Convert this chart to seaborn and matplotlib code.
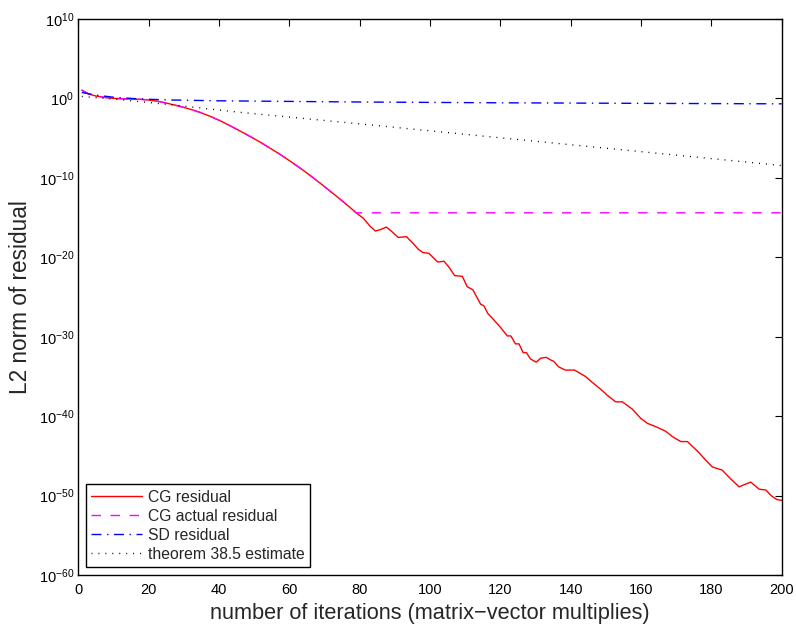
import numpy as np
import pandas as pd
import seaborn as sns
import matplotlib
matplotlib.use("Agg")
import matplotlib.pyplot as plt

##############################################
# values (exponents of 10)
cg_iter = [1, 3, 5, 8, 10.5, 14, 18, 20, 22.8, 25, 27.5, 30, 32.5, 34.6, 37.5,
           40.3, 43, 46, 49, 51.7, 54.5, 57.4, 60, 63.1, 66, 68.8, 71.5, 74.5,
           77, 79.2, 81.1, 83, 84.5, 86, 87.6, 89, 91, 93.3, 95.3, 96.7, 98,
           99.7, 102.2, 104, 105.5, 107, 109.2, 110.6, 112.2, 114.4, 115.3,
           116.5, 118, 120, 122, 123, 124.3, 125.3, 126.5, 127.4, 128.6, 130.2,
           131.5, 133.1, 134.2, 135.2, 136.6, 138.5, 141.1, 144.2, 146, 148.5,
           150.5, 152.8, 154.7, 157.5, 160, 161.8, 164.6, 167, 169, 171.3, 173.2,
           176.5, 178.5, 180.3, 183.1, 185.5, 187.9, 189.5, 191.2, 193.6, 195.5,
           197, 198.6, 200]
cg_exp = [1.05, 0.55, 0.3, 0.1, 0.0, -0.07, -0.12, -0.2, -0.38, -0.58, -0.84,
          -1.13, -1.45, -1.75, -2.25, -2.8, -3.4, -4.1, -4.82, -5.5, -6.25,
          -7.05, -7.82, -8.77, -9.72, -10.68, -11.63, -12.7, -13.62, -14.47,
          -15.1, -16.1, -16.7, -16.5, -16.2, -16.7, -17.5, -17.4, -18.3, -19.0,
          -19.4, -19.5, -20.6, -20.5, -21.3, -22.3, -22.4, -23.7, -24.1, -25.9,
          -26.1, -27.1, -27.8, -28.8, -29.9, -29.9, -30.9, -30.9, -32.0, -32.0,
          -32.8, -33.2, -32.7, -32.6, -32.9, -33.1, -33.8, -34.2, -34.2, -35.0,
          -35.7, -36.6, -37.4, -38.2, -38.2, -39.1, -40.3, -40.9, -41.4, -41.9,
          -42.6, -43.2, -43.2, -44.6, -45.6, -46.4, -46.8, -47.9, -48.9, -48.6,
          -48.3, -49.2, -49.3, -50.0, -50.5, -50.6]

actual_iter = [1, 3, 5, 8, 10.5, 14, 18, 20, 22.8, 25, 27.5, 30, 32.5, 34.6,
               37.5, 40.3, 43, 46, 49, 51.7, 54.5, 57.4, 60, 63.1, 66, 68.8,
               71.5, 74.5, 77, 79, 200]
actual_exp = [1.05, 0.55, 0.3, 0.1, 0.0, -0.07, -0.12, -0.2, -0.38, -0.58,
              -0.84, -1.13, -1.45, -1.75, -2.25, -2.8, -3.4, -4.1, -4.82, -5.5,
              -6.25, -7.05, -7.82, -8.77, -9.72, -10.68, -11.63, -12.7, -13.62,
              -14.4, -14.4]

sd_iter = [1, 5, 10, 18, 27, 40, 56, 80, 120, 160, 200]
sd_exp = [0.75, 0.42, 0.15, -0.08, -0.2, -0.3, -0.36, -0.45, -0.55, -0.62, -0.68]

est_iter = [1, 13, 27.5, 46, 80, 121, 160, 200]
est_exp = [0.25, -0.2, -0.85, -1.75, -3.2, -5.0, -6.7, -8.45]

labels = ["CG residual", "CG actual residual", "SD residual",
          "theorem 38.5 estimate"]


def to_frame(iters, exps):
    return pd.DataFrame({"it": iters, "res": [10.0 ** e for e in exps]})


sns.set_theme(style="white")
plt.rcParams["font.family"] = ["Liberation Sans", "DejaVu Sans"]
plt.rcParams["mathtext.fontset"] = "custom"
plt.rcParams["mathtext.rm"] = "Liberation Sans"
plt.rcParams["mathtext.it"] = "Liberation Sans:italic"
plt.rcParams["lines.scale_dashes"] = False

fig = plt.figure(figsize=(7.96, 6.25), dpi=100)
ax = fig.add_axes([0.0983, 0.08, 0.8837, 0.8896])

# line colour and dash pattern per series (MATLAB look)
styles = [
    ("#ff0000", "-"),
    ("#ff00ff", (0, (6.8, 6.9))),
    ("#0000ff", (0, (7.2, 4.0, 1.0, 4.0))),
    ("#000000", (0, (0.7, 4.3))),
]
series = [(cg_iter, cg_exp), (actual_iter, actual_exp), (sd_iter, sd_exp),
          (est_iter, est_exp)]

for (iters, exps), (col, ls), lab in zip(series, styles, labels):
    df = to_frame(iters, exps)
    sns.lineplot(data=df, x="it", y="res", ax=ax, color=col, linestyle=ls,
                 linewidth=1.0, label=lab, errorbar=None)

ax.set_yscale("log")
ax.set_xlim(0, 200)
ax.set_ylim(1e-60, 1e10)
ax.set_xticks(range(0, 201, 20))
yt = list(range(-60, 11, 10))
ax.set_yticks([10.0 ** e for e in yt])
ax.set_yticklabels([r"$\mathregular{10^{%d}}$" % e for e in yt])
ax.minorticks_off()
ax.tick_params(direction="in", length=5, width=0.8, top=True, right=True,
               labelsize=10.5, colors="black")
ax.tick_params(axis="x", pad=6)
ax.tick_params(axis="y", pad=3)
for s in ax.spines.values():
    s.set_color("black")
    s.set_linewidth(1.0)

ax.set_xlabel("number of iterations (matrix\u2212vector multiplies)",
              fontsize=15.7, labelpad=4)
ax.set_ylabel("L2 norm of residual", fontsize=16.3, labelpad=5)

leg = ax.legend(loc="lower left", bbox_to_anchor=(0.011, 0.014),
                borderaxespad=0, fontsize=11.3, fancybox=False, framealpha=1,
                edgecolor="black", handlelength=3.2, handletextpad=0.4,
                labelspacing=0.25, borderpad=0.35)
leg.get_frame().set_linewidth(1.0)

plt.savefig("out.png", dpi=100)
plt.close()
